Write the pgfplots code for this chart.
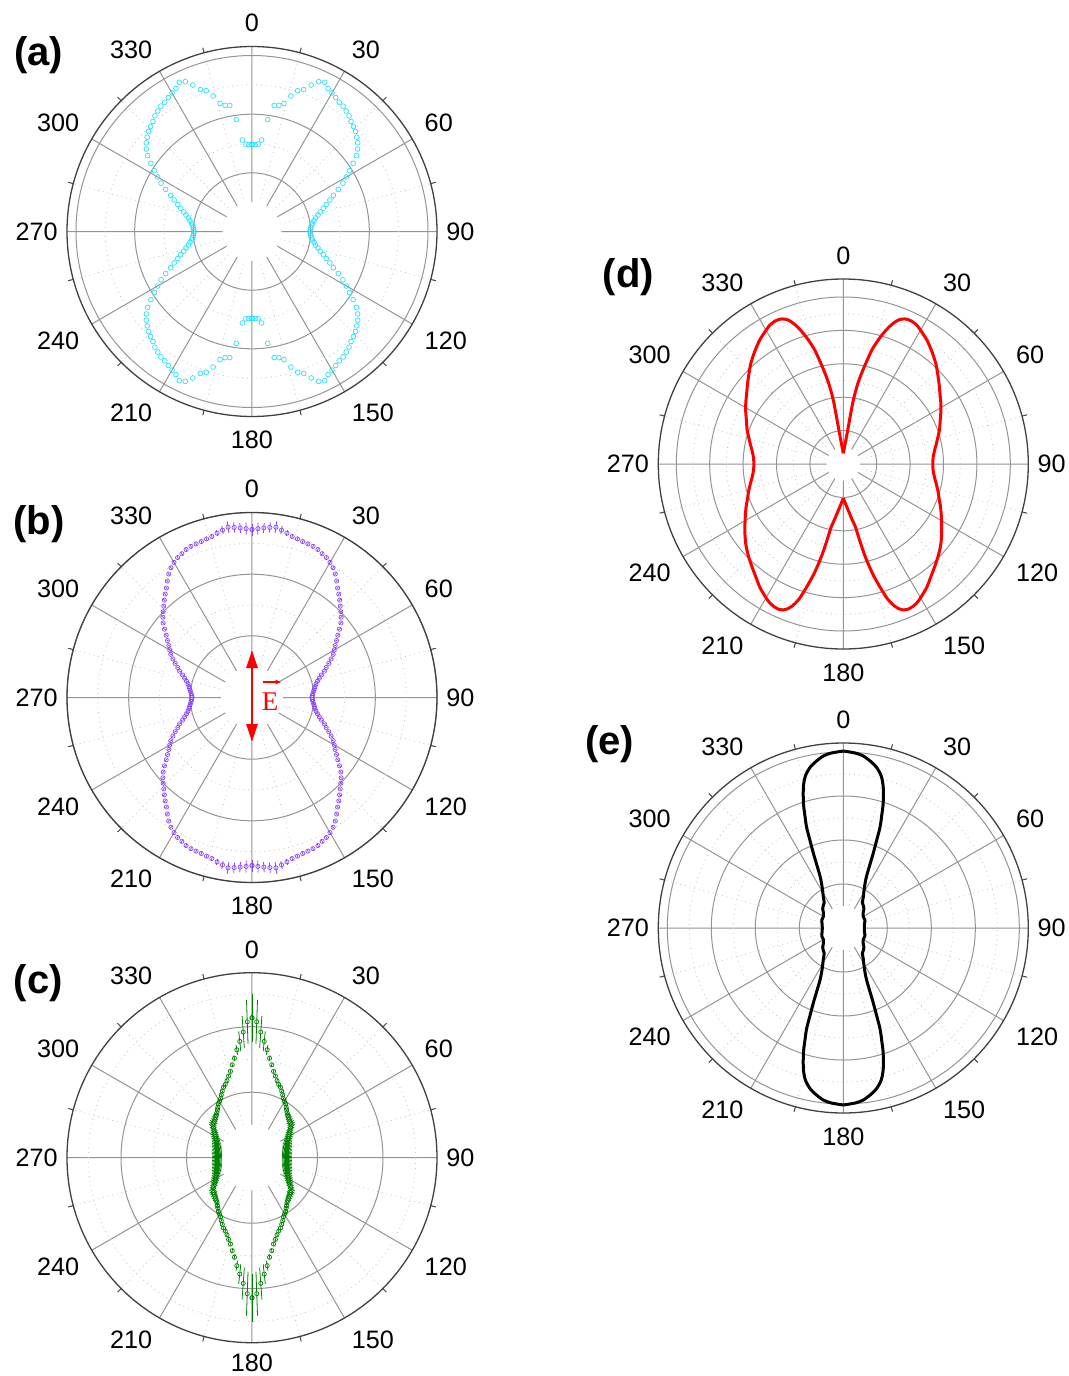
\documentclass[border=0pt]{standalone}
\usepackage{pgfplots}
\pgfplotsset{compat=1.18}
\usepackage{pgfplotstable}
\usepgfplotslibrary{polar}
\usetikzlibrary{arrows.meta}
\usepackage{fontspec}
\setmainfont{Liberation Sans}
\newfontfamily\serifE{Liberation Serif}
\definecolor{cyanA}{RGB}{40,225,250}
\definecolor{violetB}{RGB}{140,70,250}
\definecolor{greenC}{RGB}{0,128,0}
\definecolor{redD}{RGB}{255,0,0}

% panel (a): compass angle t (deg), radius r (px units), one quadrant
\pgfplotstableread{
t r
0 87
2 87
4 87.5
6 92
8 113
10 128
12 129
14 132
16 141
18 148
20 151
22 158
24 164
26 166
28 162
30 160
32 158
34 156
36 155
38 153
40 151
42 148
44 146
46 144
48 141
50 138
52 134
54 129
56 122
58 115
60 109
62 103
64 96
66 89
68 84
70 79
72 75
74 71
76 68
78 65
80 63
82 61
84 60
86 59
88 58.5
90 58
}\dA

\pgfplotstableread{
t r e
0 168 6
2 169 6
4 170 5
6 171 5
8 172 6
10 170 4
12 168 3
14 166 2
16 165 2
18 164 1.5
20 163.5 1.5
22 163 1.5
24 162 1.5
26 160 1.5
28 158.5 1.5
30 156 1.5
32 153 1.5
34 149 1.5
36 144 1.5
38 139 1.5
40 135 1.5
42 131 1.5
44 127 1.5
46 123.5 1.5
48 120 1.5
50 116 1.5
52 111 1.5
54 106 1.5
56 102 1.5
58 98 1.5
60 95 1.5
62 92 1.5
64 88 1.5
66 84 1.5
68 80 1.5
70 77 1.5
72 73 1.5
74 70 1.5
76 67.5 1.5
78 65.5 1.5
80 64 1.5
82 63 1.5
84 62 1.5
86 61 1.5
88 60.5 1.5
90 60 1.5
}\dB

\pgfplotstableread{
t r e
0 140 24
2 136 22
4 126 16
6 117 10
8 109 5
10 101 3
12 95 2
14 89 2
16 85 2
18 81 2
20 78 2
22 76 2
24 73 2
26 70 2
28 67 2
30 65 2.5
32 63.5 2.5
34 61 3
36 59 3
38 57 3
40 55.5 3
42 54.5 3.5
44 53.5 3.5
46 52.5 4
48 52 4
50 51 4.5
52 49 5
54 47 5
56 45 5
58 43.5 5
60 42.5 5
62 41 5
64 40 5
66 39 5
68 38 5
70 37.5 5
72 37 5
74 36.5 5
76 36 5
78 35.5 5
80 35.5 5
82 35.5 5
84 35 5
86 35 5
88 35 5
90 35 5
}\dC

% panel (d): right half, compass 0..180
\pgfplotstableread{
t r
0 10.7
2 13
4 17
5 20
6 23.5
7 30
7.5 35
8 43
8.5 55
9 66
10 79
11 89
12 98
13 107
14 117
15 124
16 130.5
17 136.5
18 142
19 147
20 151
21 154.3
22 156.3
23 157.6
24 158.2
25 158.4
26 158.2
28 157
30 154.5
32 152
34 149.5
36 146.5
38 143.5
40 140.5
43 136
46 131
50 125
54 119.5
58 115
62 110.5
66 106
70 102.5
74 98.5
78 95
82 92
86 90
90 89.5
94 90
98 92
102 95
106 98.5
110 102
114 106.5
118 111
122 116
126 121.5
130 127
134 132
138 137
142 142.5
146 149
150 154.5
152 157
154 158.5
156 159
157.5 158
159 155
160 151.7
161 147
162 141
163 132
164 123
165 114
166 103
167 91
168 77
169 65
170 60
171 56.3
172 52.5
173 49
174 46.5
176 41.5
178 37.5
180 34.3
}\dD

% panel (e): one quadrant
\pgfplotstableread{
t r
0 177
3.9 175.4
6.6 173.2
9.2 169
11.6 164.3
14 156.7
15.8 146.6
17.7 131.2
18.8 119.4
20 107.5
20.8 94.2
21.8 80.8
22.8 68.3
24.3 56
27.7 45.2
32.8 36.9
37.2 31.6
42 30
47 28.2
53 24.8
60 23
69.6 23
80 21.5
90 21
}\dE

\pgfplotsset{
  panel/.style={
    scale only axis, width=185pt, height=185pt, anchor=center,
    xmin=0, xmax=360, ymin=0, ymax=185, clip=false,
    xtick={0,30,...,330},
    xticklabels={},
    minor xtick={15,45,...,345},
    grid=both,
    major grid style={draw=black!42, line width=0.5pt},
    minor grid style={draw=black!22, dotted, line width=0.45pt},
    axis line style={draw=black!75, line width=0.65pt},
    y axis line style={draw=none},
    yticklabels={},
    tick align=inside,
    major tick length=0pt,
    minor tick length=2.6pt,
    every minor tick/.style={black!75, line width=0.5pt},
    every minor y tick/.style={draw=none},
    every major y tick/.style={draw=none},
  },
}
\tikzset{alab/.style={inner sep=0pt, font=\fontsize{12.6}{15}\selectfont}}

% angle labels (compass), corner-anchored on the rays just outside the circle
\newcommand{\anglabels}[1][199]{%
  \node[alab, anchor=south] at (axis cs:90,199) {0};
  \node[alab, anchor=south west] at (axis cs:60,199) {30};
  \node[alab, anchor=south west] at (axis cs:30,199) {60};
  \node[alab, anchor=west] at (axis cs:0,194) {90};
  \node[alab, anchor=north west] at (axis cs:330,199) {120};
  \node[alab, anchor=north west] at (axis cs:300,199) {150};
  \node[alab, anchor=north] at (axis cs:270,#1) {180};
  \node[alab, anchor=north east] at (axis cs:240,199) {210};
  \node[alab, anchor=north east] at (axis cs:210,199) {240};
  \node[alab, anchor=east] at (axis cs:180,194) {270};
  \node[alab, anchor=south east] at (axis cs:150,199) {300};
  \node[alab, anchor=south east] at (axis cs:120,199) {330};
}

\newcommand{\hole}[1]{\addplot[fill=white, draw=none, forget plot] coordinates {(0,#1) (15,#1) (30,#1) (45,#1) (60,#1) (75,#1) (90,#1) (105,#1) (120,#1) (135,#1) (150,#1) (165,#1) (180,#1) (195,#1) (210,#1) (225,#1) (240,#1) (255,#1) (270,#1) (285,#1) (300,#1) (315,#1) (330,#1) (345,#1) (360,#1)};}

% four mirrored quadrants: compass t, 360-t, 180-t, 180+t
\newcommand{\quadplot}[3]{%
  \addplot[#1] table[x expr=90-\thisrow{t}, y=r, #2] {#3};
  \addplot[#1] table[x expr=90+\thisrow{t}, y=r, #2] {#3};
  \addplot[#1] table[x expr=270+\thisrow{t}, y=r, #2] {#3};
  \addplot[#1] table[x expr=270-\thisrow{t}, y=r, #2] {#3};
}

% radial error bar drawn as a mark
\pgfdeclareplotmark{ebar}{%
  \pgfpathmoveto{\pgfpointpolar{\ebang}{\ebl pt}}%
  \pgfpathlineto{\pgfpointpolar{\ebang}{-\ebl pt}}%
  \pgfusepathqstroke}
\newcommand{\ebone}[3]{% colour, angle expr, table
  \addplot[scatter, only marks, mark=ebar, #1, line width=0.4pt, forget plot,
    scatter/@pre marker code/.code={}, scatter/@post marker code/.code={},
    visualization depends on={#2 \as \ebang},
    visualization depends on={0.5*\thisrow{e} \as \ebl}]
    table[x expr={#2}, y=r] {#3};}
\newcommand{\ebquad}[2]{%
  \ebone{#1}{90-\thisrow{t}}{#2}
  \ebone{#1}{90+\thisrow{t}}{#2}
  \ebone{#1}{270+\thisrow{t}}{#2}
  \ebone{#1}{270-\thisrow{t}}{#2}
}

\begin{document}
\begin{tikzpicture}
\useasboundingbox (0pt,0pt) rectangle (534.5pt,-688pt);

% (a)
\begin{polaraxis}[panel, at={(126pt,-115.75pt)},
  ytick={58.7,117.3,176}, minor ytick={88,146.7}]
  \hole{29.3}
  \quadplot{only marks, mark=o, mark size=1.2pt, cyanA, mark options={line width=0.35pt}}{}{\dA}
  \anglabels
\end{polaraxis}

% (b)
\begin{polaraxis}[panel, at={(126pt,-348.75pt)},
  ytick={61.7,123.3,185}, minor ytick={92.5,154.2}]
  \hole{30.8}
  \ebquad{violetB}{\dB}
  \quadplot{only marks, mark=o, mark size=1.05pt, violetB, mark options={line width=0.35pt}}{}{\dB}
  \anglabels
\end{polaraxis}

% (c)
\begin{polaraxis}[panel, at={(126pt,-578.85pt)},
  ytick={65.5,131}, minor ytick={98.2,163.7}]
  \hole{32.7}
  \ebquad{greenC}{\dC}
  \quadplot{only marks, mark=o, mark size=1.05pt, greenC, mark options={line width=0.35pt}}{}{\dC}
  \anglabels[196]
\end{polaraxis}

% (d)
\begin{polaraxis}[panel, at={(421.65pt,-232pt)},
  ytick={33.4,66.8,100.2,133.6,167}, minor ytick={50.1,83.5,116.9,150.3}]
  \hole{16.7}
  \addplot[redD, line width=1.5pt, smooth, line join=round] table[x expr=90-\thisrow{t}, y=r] {\dD};
  \addplot[redD, line width=1.5pt, smooth, line join=round] table[x expr=90+\thisrow{t}, y=r] {\dD};
  \anglabels
\end{polaraxis}

% (e)
\begin{polaraxis}[panel, at={(421.65pt,-464pt)},
  ytick={44,88,132,176}, minor ytick={66,110,154}]
  \hole{22}
  \quadplot{black, line width=1.5pt, smooth, line join=round}{}{\dE}
  \anglabels
\end{polaraxis}

% E-field arrow in (b)
\draw[red, line width=1.4pt, {Triangle[length=9pt,width=5.5pt]}-{Triangle[length=9pt,width=5.5pt]}]
  (126pt,-325pt) -- (126pt,-371pt);
\node[red, inner sep=0pt, font=\serifE\fontsize{13.5}{15}\selectfont] at (135pt,-351pt) {E};
\draw[red, line width=0.6pt, -{Latex[length=3pt,width=2.6pt]}] (131.3pt,-341pt) -- (140.8pt,-341pt);

% panel letters
\begin{scope}[every node/.style={font=\bfseries\fontsize{20}{23}\selectfont, inner sep=0pt}]
\node at (19.25pt,-27.75pt) {(a)};
\node at (19.5pt,-262pt) {(b)};
\node at (19.15pt,-491.65pt) {(c)};
\node at (314.15pt,-138.75pt) {(d)};
\node at (304.75pt,-372pt) {(e)};
\end{scope}
\end{tikzpicture}
\end{document}
